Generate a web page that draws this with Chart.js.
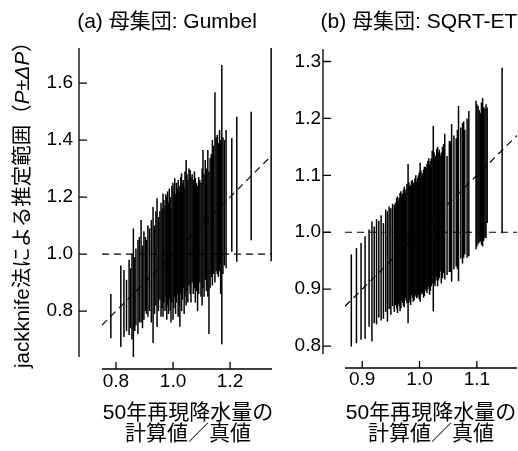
<!DOCTYPE html>
<html>
<head>
<meta charset="utf-8">
<script src="https://cdn.jsdelivr.net/npm/chart.js@4"></script>
<style>
  html, body { margin: 0; padding: 0; background: #fff; }
  body { width: 518px; height: 451px; position: relative; overflow: hidden;
         font-family: "Liberation Sans", Arial, "Noto Sans CJK JP", sans-serif; color: #000;
         text-spacing-trim: space-all; }
  canvas { position: absolute; top: 0; }
  .t { position: absolute; white-space: nowrap; font-size: 21px; line-height: 24px; transform: translateX(-50%); }
  .xl { position: absolute; white-space: nowrap; font-size: 21px; line-height: 21px; transform: translateX(-50%); }
  .yl { position: absolute; white-space: nowrap; font-size: 20.5px; line-height: 24px; left: 10px; top: 368px;
        transform-origin: 0 0; transform: rotate(-90deg); }
</style>
</head>
<body>
<canvas id="ca" width="280" height="451" style="left:0px"></canvas>
<canvas id="cb" width="238" height="451" style="left:280px"></canvas>

<div class="t" style="left:167px; top:9px;">(a) 母集団: Gumbel</div>
<div class="t" style="left:419px; top:9px;">(b) 母集団: SQRT-ET</div>
<div class="xl" style="left:188px; top:401px;">50年再現降水量の</div>
<div class="xl" style="left:188px; top:422px;">計算値／真値</div>
<div class="xl" style="left:431px; top:401px;">50年再現降水量の</div>
<div class="xl" style="left:431px; top:422px;">計算値／真値</div>
<div class="yl">jackknife法による推定範囲（<i>P</i>±<i>Δ</i><i>P</i>）</div>

<script>
// ---------- Panel (a): 母集団 Gumbel ----------
const xA = [0.782,0.817,0.828,0.837,0.846,0.851,0.856,0.861,0.866,0.870,
  0.877,0.882,0.888,0.893,0.898,0.903,0.907,0.912,0.918,0.924,
  0.930,0.935,0.940,0.944,0.949,0.954,0.958,0.962,0.965,0.968,
  0.972,0.975,0.978,0.981,0.984,0.987,0.990,0.993,0.996,1.000,
  1.003,1.006,1.009,1.012,1.015,1.018,1.021,1.024,1.027,1.030,
  1.033,1.036,1.039,1.042,1.046,1.049,1.052,1.056,1.060,1.063,
  1.067,1.071,1.075,1.078,1.082,1.086,1.090,1.094,1.098,1.102,
  1.105,1.109,1.113,1.117,1.122,1.126,1.130,1.134,1.138,1.142,
  1.147,1.151,1.155,1.159,1.163,1.167,1.171,1.175,1.180,1.186,
  1.206,1.2235,1.274,1.344];
const lowA = [0.705,0.674,0.709,0.73,0.716,0.74,0.70,0.635,0.73,0.75,
  0.72,0.76,0.76,0.74,0.77,0.80,0.79,0.78,0.80,0.76,
  0.688,0.79,0.82,0.744,0.80,0.84,0.78,0.81,0.78,0.83,
  0.80,0.85,0.77,0.82,0.79,0.84,0.80,0.76,0.83,0.77,
  0.81,0.85,0.79,0.83,0.86,0.78,0.82,0.745,0.86,0.80,
  0.84,0.88,0.79,0.85,0.82,0.87,0.83,0.89,0.86,0.83,
  0.90,0.86,0.88,0.83,0.87,0.80,0.86,0.90,0.85,0.82,
  0.88,0.85,0.91,0.87,0.85,0.72,0.88,0.92,0.89,0.93,
  0.90,0.94,0.93,0.92,0.94,0.86,0.684,0.93,0.96,0.95,
  1.008,0.973,1.049,0.975];
const highA = [0.86,0.96,0.944,0.91,0.98,0.95,1.00,1.09,0.99,1.02,
  1.05,1.06,1.12,1.03,1.08,1.06,1.05,1.10,1.09,1.12,
  1.165,1.10,1.15,1.196,1.13,1.15,1.18,1.16,1.213,1.19,
  1.17,1.21,1.20,1.22,1.18,1.23,1.20,1.16,1.24,1.25,
  1.22,1.266,1.21,1.25,1.23,1.26,1.22,1.24,1.27,1.283,
  1.25,1.26,1.23,1.29,1.33,1.28,1.26,1.30,1.295,1.27,
  1.28,1.26,1.29,1.267,1.25,1.24,1.27,1.26,1.25,1.30,
  1.365,1.28,1.33,1.30,1.365,1.29,1.337,1.35,1.40,1.38,
  1.568,1.41,1.418,1.39,1.435,1.40,1.663,1.41,1.40,1.435,
  1.407,1.482,1.499,1.9];
const xRangeA = [0.751, 1.347];
const yRangeA = [0.639, 1.723];
const xTicksA = [0.8, 1.0, 1.2];
const yTicksA = [0.8, 1.0, 1.2, 1.4, 1.6];

// ---------- Panel (b): 母集団 SQRT-ET ----------
const xB = [0.881,0.890,0.898,0.905,0.912,0.917,0.921,0.925,0.929,0.933,
  0.937,0.941,0.944,0.947,0.950,0.953,0.956,0.960,0.963,0.966,
  0.969,0.972,0.975,0.978,0.980,0.983,0.986,0.989,0.992,0.995,
  0.998,1.001,1.004,1.007,1.010,1.013,1.016,1.019,1.022,1.024,
  1.027,1.030,1.033,1.036,1.040,1.044,1.048,1.052,1.056,1.060,
  1.064,1.068,1.072,1.075,1.079,1.083,1.086,1.0986,1.102,1.106,
  1.110,1.114,1.118,1.144,
  0.958,0.9615,0.9645,0.9675,0.9705,0.9735,0.9765,0.9815,0.9845,0.9875,
  0.9905,0.9935,0.9965,0.9995,1.0025,1.0055,1.0085,1.0115,1.0145,1.0175,
  1.0205,1.0255,1.0285,1.0315,1.0345,1.038,1.042,1.054,1.066,1.077,
  1.100,1.104,1.108,1.112,1.116];
const lowB = [0.799,0.805,0.811,0.813,0.834,0.808,0.84,0.838,0.85,0.845,
  0.848,0.86,0.843,0.865,0.855,0.87,0.86,0.866,0.875,0.861,
  0.88,0.87,0.885,0.875,0.84,0.882,0.89,0.878,0.887,0.884,
  0.89,0.878,0.895,0.885,0.90,0.893,0.905,0.897,0.91,0.861,
  0.905,0.922,0.915,0.931,0.919,0.917,0.925,0.93,0.913,0.935,
  0.94,0.914,0.954,0.945,0.961,0.955,0.958,0.97,0.979,0.984,
  0.975,0.99,1.016,0.998,
  0.872,0.858,0.870,0.866,0.876,0.868,0.88,0.876,0.872,0.885,
  0.88,0.89,0.886,0.882,0.89,0.892,0.888,0.897,0.90,0.89,
  0.905,0.91,0.915,0.905,0.92,0.91,0.928,0.93,0.935,0.955,
  0.975,0.982,0.978,0.985,0.99];
const highB = [0.961,0.972,0.981,0.993,1.005,1.019,1.01,1.023,1.02,1.03,
  1.016,1.04,1.037,1.045,1.042,1.05,1.048,1.06,1.055,1.069,
  1.065,1.075,1.07,1.085,1.12,1.08,1.09,1.085,1.095,1.09,
  1.10,1.122,1.10,1.11,1.115,1.12,1.13,1.125,1.143,1.187,
  1.13,1.146,1.14,1.135,1.15,1.173,1.134,1.16,1.19,1.17,
  1.165,1.222,1.184,1.192,1.18,1.20,1.213,1.231,1.222,1.21,
  1.236,1.217,1.219,1.289,
  1.052,1.063,1.060,1.072,1.068,1.08,1.075,1.088,1.083,1.092,
  1.088,1.10,1.095,1.105,1.108,1.104,1.115,1.112,1.125,1.12,
  1.13,1.14,1.135,1.15,1.145,1.14,1.155,1.16,1.18,1.195,
  1.225,1.215,1.228,1.22,1.225];
const xRangeB = [0.870, 1.170];
const yRangeB = [0.786, 1.322];
const xTicksB = [0.9, 1.0, 1.1];
const yTicksB = [0.8, 0.9, 1.0, 1.1, 1.2, 1.3];

const unityY = [1.0, 1.0];

const FONT = '"Liberation Sans", Arial, sans-serif';

function makeChart(id, xs, lows, highs, xRange, yRange, xTicks, yTicks, geom) {
  const bars = xs.map((x, i) => ({ x: x, y: [lows[i], highs[i]] }));
  const diag = xRange.map(v => ({ x: v, y: v }));
  const horiz = xRange.map((v, i) => ({ x: v, y: unityY[i] }));

  const axesPlugin = {
    id: 'detachedAxes',
    afterDraw(chart) {
      const ctx = chart.ctx;
      const a = chart.chartArea;
      const xs_ = chart.scales.x, ys_ = chart.scales.y;
      ctx.save();
      ctx.strokeStyle = '#000';
      ctx.lineWidth = 1.3;
      const ax = a.left - geom.yGap;
      ctx.beginPath();
      ctx.moveTo(ax, a.top); ctx.lineTo(ax, a.bottom);
      yTicks.forEach(v => {
        const p = ys_.getPixelForValue(v);
        ctx.moveTo(ax, p); ctx.lineTo(ax + 8, p);
      });
      const ay = a.bottom + geom.xGap;
      ctx.moveTo(a.left, ay); ctx.lineTo(a.right, ay);
      xTicks.forEach(v => {
        const p = xs_.getPixelForValue(v);
        ctx.moveTo(p, ay); ctx.lineTo(p, ay - 7);
      });
      ctx.stroke();
      ctx.restore();
    }
  };

  return new Chart(document.getElementById(id), {
    type: 'bar',
    data: {
      datasets: [
        { type: 'line', data: diag, borderColor: '#000', borderWidth: 1.2,
          borderDash: [7, 5], pointRadius: 0, fill: false, order: 2 },
        { type: 'line', data: horiz, borderColor: '#000', borderWidth: 1.2,
          borderDash: [7, 5], pointRadius: 0, fill: false, order: 2 },
        { type: 'bar', data: bars, backgroundColor: '#000', borderWidth: 0,
          inflateAmount: 0, barThickness: geom.barW, grouped: false, order: 1 }
      ]
    },
    options: {
      responsive: false,
      animation: false,
      devicePixelRatio: 1,
      layout: { padding: geom.padding },
      plugins: { legend: { display: false }, tooltip: { enabled: false }, title: { display: false } },
      scales: {
        x: {
          type: 'linear', offset: false,
          min: xRange[0], max: xRange[1],
          grid: { display: false, drawTicks: false },
          border: { display: false },
          afterBuildTicks: s => { s.ticks = xTicks.map(v => ({ value: v })); },
          afterFit: s => { s.height = geom.xHeight; },
          ticks: { color: '#000', padding: geom.xPad, maxRotation: 0, autoSkip: false,
                   font: { family: FONT, size: 19 }, callback: v => Number(v).toFixed(1) }
        },
        y: {
          type: 'linear',
          min: yRange[0], max: yRange[1],
          grid: { display: false, drawTicks: false },
          border: { display: false },
          afterBuildTicks: s => { s.ticks = yTicks.map(v => ({ value: v })); },
          afterFit: s => { s.width = geom.yWidth; },
          ticks: { color: '#000', padding: geom.yPad, autoSkip: false,
                   font: { family: FONT, size: 19 }, callback: v => Number(v).toFixed(1) }
        }
      }
    },
    plugins: [axesPlugin]
  });
}

makeChart('ca', xA, lowA, highA, xRangeA, yRangeA, xTicksA, yTicksA, {
  padding: { left: 0, top: 48, right: 8, bottom: 54 },
  yWidth: 102, xHeight: 40, yGap: 23, xGap: 12, yPad: 29, xPad: 13, barW: 1.5
});
makeChart('cb', xB, lowB, highB, xRangeB, yRangeB, xTicksB, yTicksB, {
  padding: { left: 0, top: 49, right: 1, bottom: 57 },
  yWidth: 65, xHeight: 40, yGap: 22, xGap: 14, yPad: 24, xPad: 14, barW: 1.5
});
</script>
</body>
</html>
